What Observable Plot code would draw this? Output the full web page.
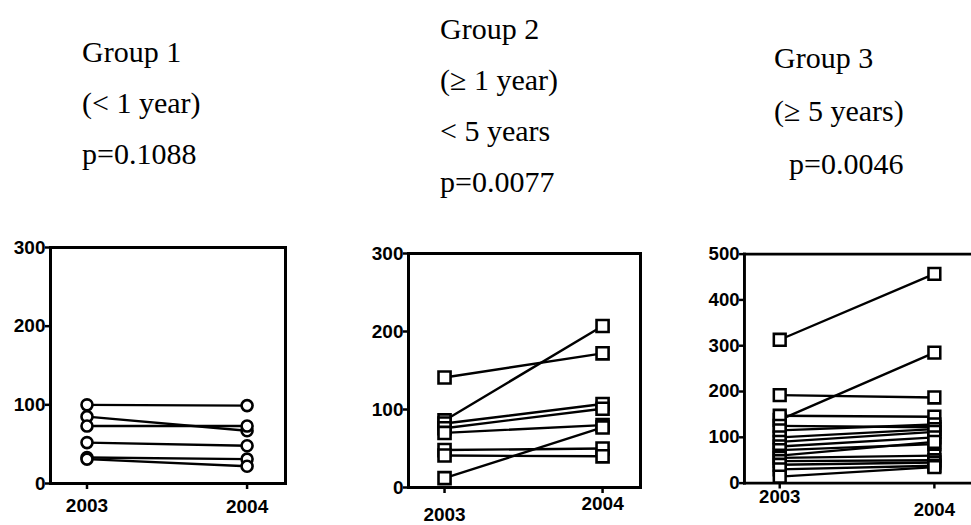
<!DOCTYPE html>
<html>
<head>
<meta charset="utf-8">
<script src="https://cdn.jsdelivr.net/npm/d3@7"></script>
<script src="https://cdn.jsdelivr.net/npm/@observablehq/plot@0.6"></script>
<style>
  html, body { margin: 0; padding: 0; background: #fff; }
  body { width: 971px; height: 525px; position: relative; overflow: hidden; }
  .title { position: absolute; font-family: "Liberation Serif", "Times New Roman", serif; font-size: 30px; line-height: 52px; color: #000; white-space: nowrap; }
  .panel { position: absolute; }
  .panel svg text { font-family: "Liberation Sans", Arial, sans-serif !important; font-size: 19px !important; font-weight: bold !important; fill: #000; }
</style>
</head>
<body>
<div id="t1" class="title" style="left:82px; top:26px; line-height:51px;"></div>
<div id="t2" class="title" style="left:440px; top:3px; line-height:51px;"></div>
<div id="t3" class="title" style="left:774px; top:31px; line-height:53px;"></div>
<div id="p1" class="panel" style="left:0px; top:230px;"></div>
<div id="p2" class="panel" style="left:360px; top:236px;"></div>
<div id="p3" class="panel" style="left:697px; top:237px;"></div>
<script>
// ---- data ----
const years = [2003, 2004];
const titles1 = ["Group 1", "(< 1 year)", "p=0.1088"];
const titles2 = ["Group 2", "(\u2265 1 year)", "< 5 years", "p=0.0077"];
const titles3 = ["Group 3", "(\u2265 5 years)", "\u00a0\u00a0p=0.0046"];

const g1_2003 = [100, 85, 73, 52, 33, 31];
const g1_2004 = [99, 67, 73, 48, 31, 22];

const g2_2003 = [141, 86, 82, 76, 70, 48, 41, 12];
const g2_2004 = [172, 207, 107, 101, 80, 50, 40, 77];

const g3_2003 = [313, 192, 138, 147, 125, 115, 100, 90, 80, 72, 60, 55, 48, 40, 30, 14];
const g3_2004 = [457, 187, 285, 145, 122, 128, 118, 112, 100, 85, 90, 60, 50, 45, 38, 35];

const yTicks1 = [0, 100, 200, 300];
const yTicks2 = [0, 100, 200, 300];
const yTicks3 = [0, 100, 200, 300, 400, 500];

// ---- titles ----
function setTitle(id, lines) {
  const el = document.getElementById(id);
  lines.forEach(s => { const d = document.createElement("div"); d.textContent = s; el.appendChild(d); });
}
setTitle("t1", titles1);
setTitle("t2", titles2);
setTitle("t3", titles3);

// ---- panels ----
function toRows(a, b) {
  const rows = [];
  a.forEach((v, i) => {
    rows.push({id: i, year: years[0], value: v});
    rows.push({id: i, year: years[1], value: b[i]});
  });
  return rows;
}

function panel(rows, opts) {
  return Plot.plot({
    width: opts.width,
    height: opts.height,
    marginLeft: opts.ml,
    marginRight: opts.mr,
    marginTop: opts.mt,
    marginBottom: opts.mb,
    style: {fontFamily: "'Liberation Sans', Arial, sans-serif", fontSize: "19px", fontWeight: "bold", color: "#000", background: "#fff", overflow: "visible"},
    x: {domain: [2002.772, 2004.24], label: null},
    y: {domain: opts.ydomain, label: null},
    marks: [
      ...opts.sides.map(s => Plot.frame({anchor: s, stroke: "#000", strokeWidth: 3})),
      // one axis per year so each label can sit at its own (scanned) height
      ...years.map((yr, i) => Plot.axisX({ticks: [yr], tickFormat: d => String(d), tickSize: 6, tickPadding: opts.xpad[i], strokeWidth: 2.5, label: null})),
      Plot.axisY({ticks: opts.yticks, tickFormat: d => String(d), tickSize: 5, tickPadding: 0, strokeWidth: 2.5, label: null}),
      Plot.line(rows, {x: "year", y: "value", z: "id", stroke: "#000", strokeWidth: 2.4}),
      Plot.dot(rows, {x: "year", y: "value", symbol: opts.symbol, r: opts.r, fill: "#fff", stroke: "#000", strokeWidth: 2.6})
    ]
  });
}

document.getElementById("p1").appendChild(panel(toRows(g1_2003, g1_2004), {
  width: 295, height: 295, ml: 50, mr: 10, mt: 17, mb: 42, xpad: [9, 10],
  ydomain: [0, 300], yticks: yTicks1, symbol: "circle", r: 5.5, sides: ["left", "top", "right", "bottom"]
}));
document.getElementById("p2").appendChild(panel(toRows(g2_2003, g2_2004), {
  width: 285, height: 289, ml: 48, mr: 5, mt: 17, mb: 38, xpad: [14, 3],
  ydomain: [0, 300], yticks: yTicks2, symbol: "square", r: 6.8, sides: ["left", "top", "right", "bottom"]
}));
document.getElementById("p3").appendChild(panel(toRows(g3_2003, g3_2004), {
  width: 280, height: 288, ml: 48, mr: 0, mt: 17, mb: 37, xpad: [1, 14],
  ydomain: [0, 500], yticks: yTicks3, symbol: "square", r: 6.8, sides: ["left", "top", "bottom"]
}));
</script>
</body>
</html>
